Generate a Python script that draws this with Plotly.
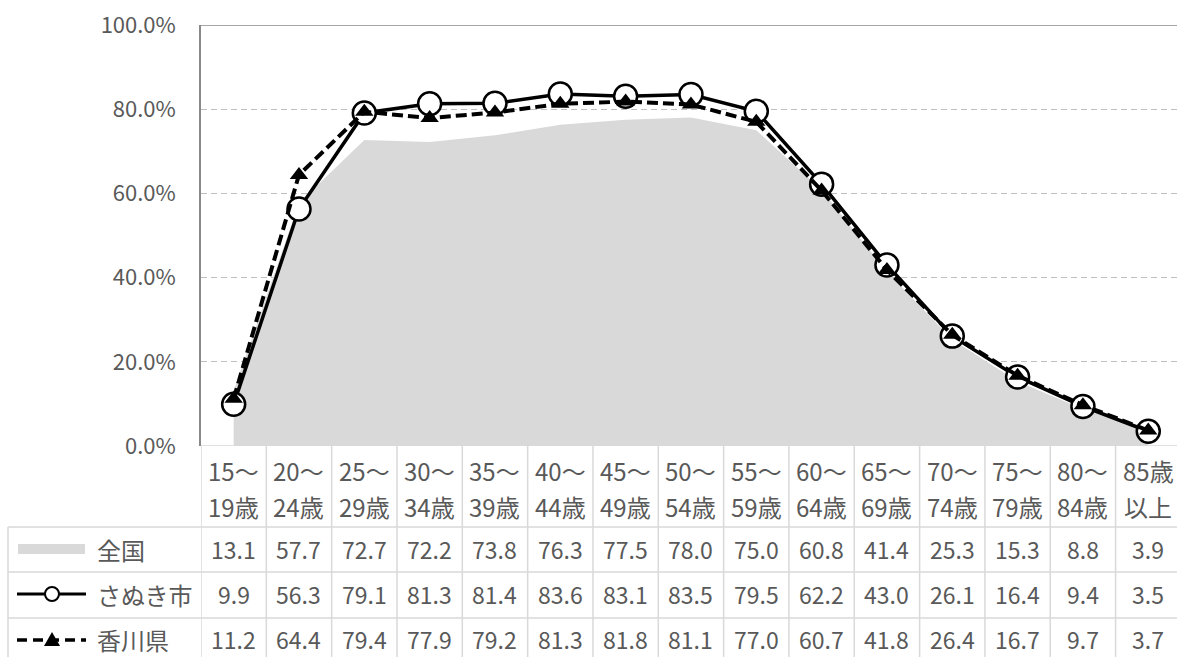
import plotly.graph_objects as go

# ---- data ----
age_top = ["15～", "20～", "25～", "30～", "35～", "40～", "45～", "50～",
           "55～", "60～", "65～", "70～", "75～", "80～", "85歳"]
age_bottom = ["19歳", "24歳", "29歳", "34歳", "39歳", "44歳", "49歳", "54歳",
              "59歳", "64歳", "69歳", "74歳", "79歳", "84歳", "以上"]
national = [13.1, 57.7, 72.7, 72.2, 73.8, 76.3, 77.5, 78.0, 75.0, 60.8, 41.4, 25.3, 15.3, 8.8, 3.9]
sanuki = [9.9, 56.3, 79.1, 81.3, 81.4, 83.6, 83.1, 83.5, 79.5, 62.2, 43.0, 26.1, 16.4, 9.4, 3.5]
kagawa = [11.2, 64.4, 79.4, 77.9, 79.2, 81.3, 81.8, 81.1, 77.0, 60.7, 41.8, 26.4, 16.7, 9.7, 3.7]
series_names = ["全国", "さぬき市", "香川県"]
y_ticks = [0, 20, 40, 60, 80, 100]

W, H = 1177, 657
FONT = "Noto Sans CJK JP"
TXT = "#595959"
GRID_T = "#d9d9d9"
AX = "#898989"

def px(x):
    return x / W

def py(y):
    return 1 - y / H

n = len(age_top)
xs = list(range(n))

fig = go.Figure()
fig.add_trace(go.Scatter(x=xs, y=national, mode="lines", fill="tozeroy",
                         fillcolor="#d9d9d9", line=dict(width=0, color="rgba(0,0,0,0)"),
                         name=series_names[0], hoverinfo="skip"))
fig.add_trace(go.Scatter(x=xs, y=sanuki, mode="lines+markers", name=series_names[1],
                         line=dict(color="black", width=3.5),
                         marker=dict(symbol="circle", size=23, color="white",
                                     line=dict(color="black", width=2.5))))
fig.add_trace(go.Scatter(x=xs, y=kagawa, mode="lines+markers", name=series_names[2],
                         line=dict(color="black", width=4, dash="11px,5px"),
                         marker=dict(symbol="triangle-up", size=16, color="black",
                                     line=dict(width=0))))

plot_left, plot_top, plot_bottom = 201, 25, 446
fig.update_layout(
    width=W, height=H, autosize=False,
    margin=dict(l=0, r=0, t=0, b=0, pad=0, autoexpand=False),
    paper_bgcolor="white", plot_bgcolor="white",
    showlegend=False,
    font=dict(family=FONT, color=TXT, size=23),
    xaxis=dict(domain=[px(plot_left), 1], range=[-0.5, 14.44],
               showgrid=False, zeroline=False, showline=False, automargin=False,
               showticklabels=False, fixedrange=True),
    yaxis=dict(domain=[py(plot_bottom), py(plot_top)], range=[0, 100],
               tickvals=y_ticks, ticktext=[f"{v:.1f}%" for v in y_ticks],
               tickfont=dict(size=22, color=TXT, family=FONT),
               showgrid=True, gridcolor="#bfbfbf", gridwidth=1.3, griddash="6px,4px",
               zeroline=False, showline=True, linecolor=AX, linewidth=1.5,
               automargin=False,
               ticks="", ticklabelstandoff=19, fixedrange=True),
)

shapes = []
# plot top border and bottom line
shapes.append(dict(type="line", xref="paper", yref="y", x0=px(plot_left), x1=1,
                   y0=100, y1=100, line=dict(color=AX, width=1.5)))
shapes.append(dict(type="line", xref="paper", yref="y", x0=px(plot_left), x1=1,
                   y0=0, y1=0, line=dict(color=GRID_T, width=1.5)))
# table vertical lines
for k in range(n + 1):
    shapes.append(dict(type="line", xref="x", yref="paper", x0=k - 0.5, x1=k - 0.5,
                       y0=0, y1=py(plot_bottom), line=dict(color=GRID_T, width=1.5)))
# table horizontal lines
for yy in [527, 572, 618]:
    shapes.append(dict(type="line", xref="paper", yref="paper", x0=px(8), x1=1,
                       y0=py(yy), y1=py(yy), line=dict(color=GRID_T, width=1.5)))
shapes.append(dict(type="line", xref="paper", yref="paper", x0=px(8), x1=px(8),
                   y0=py(527), y1=0, line=dict(color=GRID_T, width=1.5)))
# legend keys in table
shapes.append(dict(type="rect", xref="paper", yref="paper", x0=px(18), x1=px(85),
                   y0=py(554), y1=py(544), fillcolor="#d9d9d9", line=dict(width=0)))
shapes.append(dict(type="line", xref="paper", yref="paper", x0=px(17), x1=px(86),
                   y0=py(594), y1=py(594), line=dict(color="black", width=3)))
shapes.append(dict(type="circle", xref="paper", yref="paper", x0=px(45), x1=px(59),
                   y0=py(601), y1=py(587), fillcolor="white", line=dict(color="black", width=2)))
shapes.append(dict(type="line", xref="paper", yref="paper", x0=px(17), x1=px(86),
                   y0=py(640), y1=py(640), line=dict(color="black", width=3.5, dash="10px,6px")))
shapes.append(dict(type="path", xref="paper", yref="paper",
                   path=f"M {px(44)} {py(646)} L {px(60)} {py(646)} L {px(52)} {py(632)} Z",
                   fillcolor="black", line=dict(width=0)))
fig.update_layout(shapes=shapes)

ann = []
for i in range(n):
    ann.append(dict(x=i, y=py(470), xref="x", yref="paper", text=age_top[i],
                    showarrow=False, xanchor="center", yanchor="middle",
                    font=dict(size=24)))
    ann.append(dict(x=i, y=py(506), xref="x", yref="paper", text=age_bottom[i],
                    showarrow=False, xanchor="center", yanchor="middle",
                    font=dict(size=24)))
    for vals, yy in [(national, 549), (sanuki, 594), (kagawa, 639)]:
        ann.append(dict(x=i, y=py(yy), xref="x", yref="paper", text=f"{vals[i]:.1f}",
                        showarrow=False, xanchor="center", yanchor="middle"))
for name, yy in zip(series_names, [549, 594, 639]):
    ann.append(dict(x=px(95), y=py(yy), xref="paper", yref="paper", text=name,
                    showarrow=False, xanchor="left", yanchor="middle",
                    font=dict(size=24)))
fig.update_layout(annotations=ann)

fig.write_html("out.html", config={"displayModeBar": False},
               post_script="document.body.style.margin='0';document.body.style.overflow='hidden';")
